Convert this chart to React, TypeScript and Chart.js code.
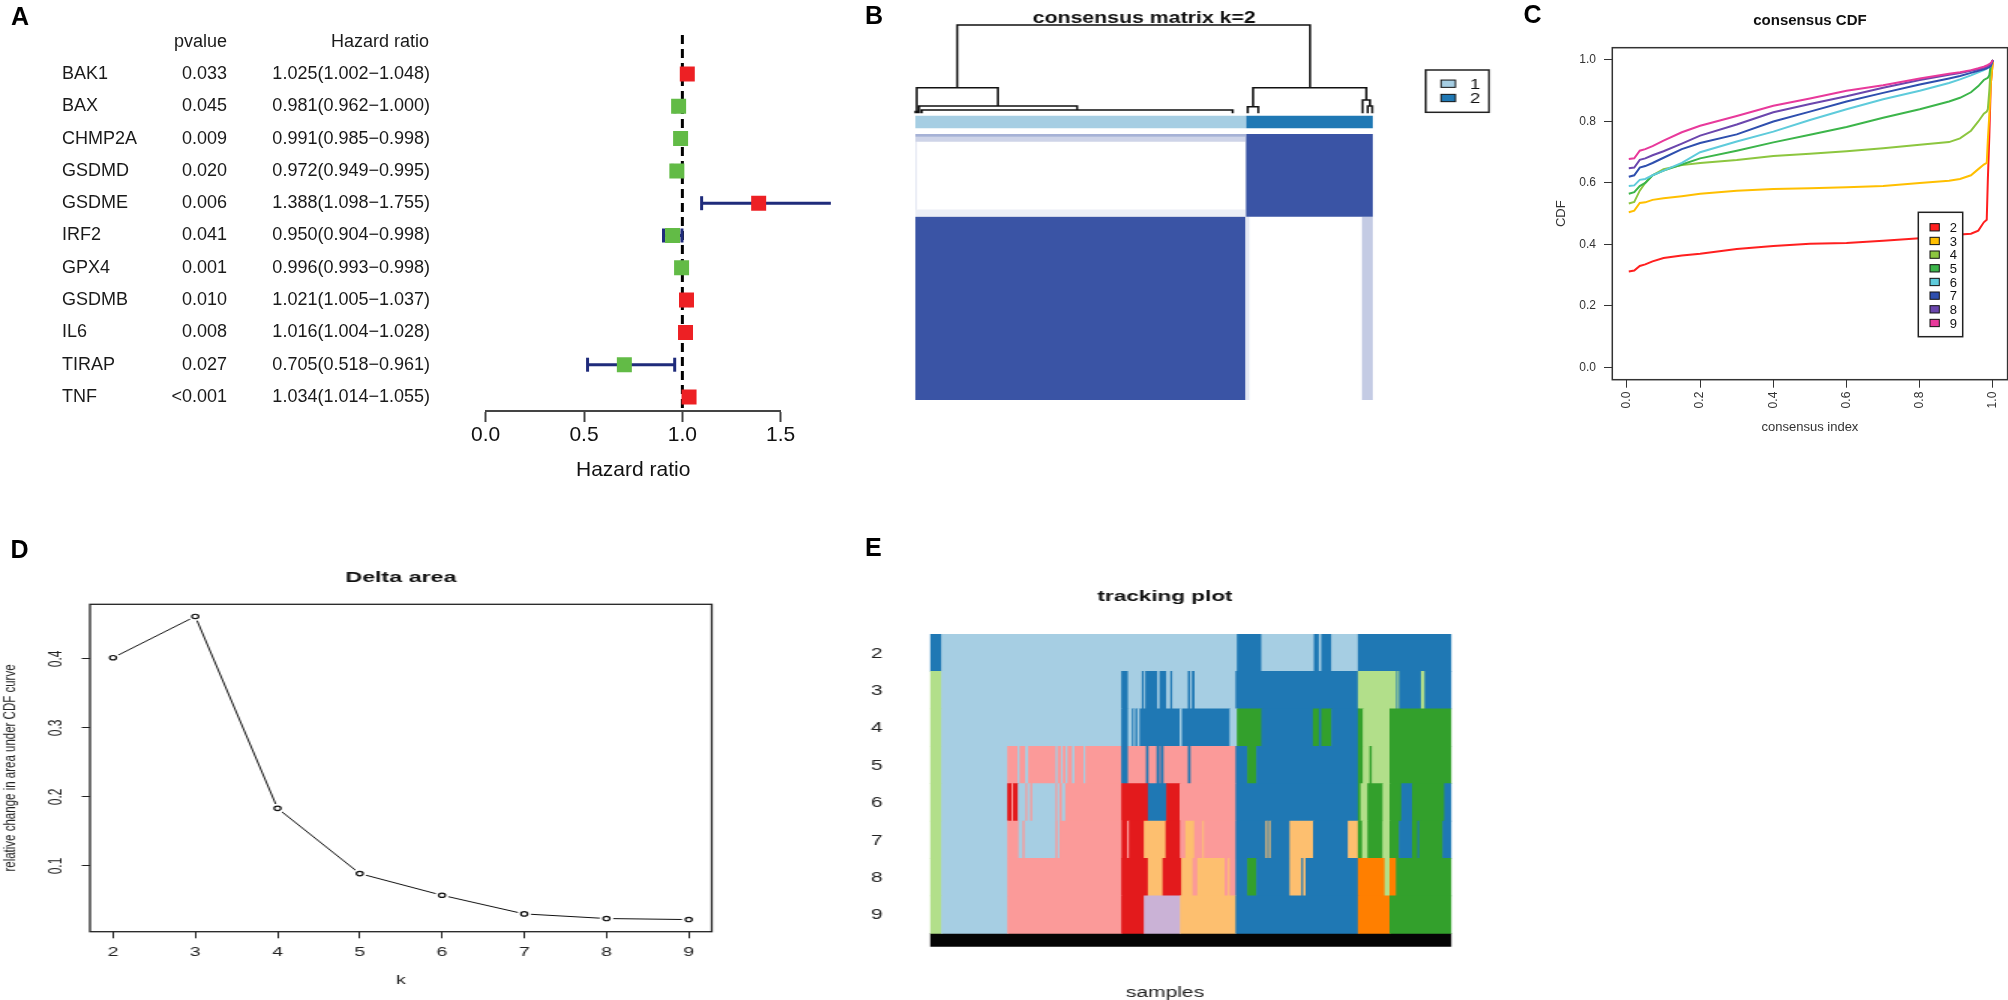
import React, { useEffect, useRef } from 'react';
import { Chart, registerables } from 'chart.js';

Chart.register(...registerables);

const FONT = '"Liberation Sans", Arial, Helvetica, sans-serif';
Chart.defaults.font.family = FONT;
Chart.defaults.color = '#222';

// ---------------- Panel A : forest plot ----------------
const genes = ['BAK1', 'BAX', 'CHMP2A', 'GSDMD', 'GSDME', 'IRF2', 'GPX4', 'GSDMB', 'IL6', 'TIRAP', 'TNF'];
const pValues = ['0.033', '0.045', '0.009', '0.020', '0.006', '0.041', '0.001', '0.010', '0.008', '0.027', '<0.001'];
const hazardRatio = [1.025, 0.981, 0.991, 0.972, 1.388, 0.95, 0.996, 1.021, 1.016, 0.705, 1.034];
const hrLower = [1.002, 0.962, 0.985, 0.949, 1.098, 0.904, 0.993, 1.005, 1.004, 0.518, 1.014];
const hrUpper = [1.048, 1.0, 0.998, 0.995, 1.755, 0.998, 0.998, 1.037, 1.028, 0.961, 1.055];
const hrTicks = [0, 0.5, 1, 1.5];

// ---------------- Panel B : consensus matrix ----------------
const clusterLabels = ['1', '2'];
const clusterSizes = [238, 92];
const clusterColors = ['#a6cee3', '#1f78b4'];
const matrixRowSplit = 0.311; // share of matrix rows in the top (cluster 2) block
// [xLeft, hLeft, xRight, hRight, hMerge]
const dendroMerges = [
  [30.4, 0.29, 284.4, 0.29, 1.0],
  [1.2, 0, 59.7, 0.083, 0.29],
  [2.9, 0, 116.7, 0.037, 0.083],
  [4.8, 0, 228.7, 0, 0.037],
  [243.4, 0.075, 325, 0.15, 0.29],
  [239.5, 0, 247.2, 0, 0.075],
  [322.3, 0, 327.6, 0.083, 0.15],
  [326, 0, 329.2, 0, 0.083],
  [0.3, 0, 2.2, 0, 0.02],
];
// [col0, col1, rowFrac0, rowFrac1, consensus]
const matrixNoise = [
  [0, 238, 0, 0.0102, 0.45],
  [0, 238, 0.0102, 0.0288, 0.25],
  [0, 238, 0.284, 0.308, 0.1],
  [0, 1.5, 0.0288, 0.284, 0.15],
  [238, 241, 0.311, 1, 0.12],
  [321.5, 330, 0.311, 1, 0.3],
];

// ---------------- Panel C : consensus CDF ----------------
const cdfK = ['2', '3', '4', '5', '6', '7', '8', '9'];
const cdfColors = ['#ff1f1f', '#ffbf00', '#8cc63f', '#3cb54a', '#5ecbdb', '#2e4fae', '#6b46ad', '#e8399b'];
const cdfIndex = [0.005, 0.02, 0.035, 0.05, 0.07, 0.1, 0.15, 0.2, 0.3, 0.4, 0.5, 0.6, 0.7, 0.8, 0.88, 0.91, 0.94, 0.96, 0.975, 0.983, 0.986, 0.99, 0.994, 1.0];
const cdfK2 = [0.312, 0.315, 0.33, 0.335, 0.345, 0.356, 0.364, 0.37, 0.385, 0.395, 0.402, 0.405, 0.412, 0.42, 0.428, 0.432, 0.435, 0.445, 0.472, 0.48, 0.61, 0.75, 0.92, 1.0];
const cdfK3 = [0.505, 0.51, 0.535, 0.537, 0.545, 0.55, 0.557, 0.565, 0.575, 0.58, 0.583, 0.586, 0.59, 0.6, 0.607, 0.613, 0.625, 0.645, 0.66, 0.665, 0.74, 0.82, 0.92, 1.0];
const cdfK4 = [0.533, 0.538, 0.575, 0.6, 0.625, 0.645, 0.658, 0.665, 0.675, 0.688, 0.695, 0.703, 0.713, 0.724, 0.733, 0.745, 0.77, 0.8, 0.825, 0.832, 0.84, 0.9, 0.98, 1.0];
const cdfK5 = [0.565, 0.57, 0.59, 0.6, 0.625, 0.64, 0.66, 0.68, 0.705, 0.732, 0.757, 0.782, 0.812, 0.84, 0.865, 0.877, 0.895, 0.915, 0.935, 0.94, 0.942, 0.95, 0.985, 1.0];
const cdfK6 = [0.59, 0.592, 0.61, 0.613, 0.625, 0.64, 0.665, 0.7, 0.735, 0.767, 0.805, 0.84, 0.872, 0.9, 0.925, 0.937, 0.95, 0.96, 0.967, 0.972, 0.974, 0.977, 0.98, 1.0];
const cdfK7 = [0.62, 0.625, 0.65, 0.655, 0.665, 0.682, 0.71, 0.73, 0.758, 0.8, 0.832, 0.865, 0.893, 0.92, 0.94, 0.948, 0.958, 0.965, 0.97, 0.973, 0.975, 0.977, 0.98, 1.0];
const cdfK8 = [0.648, 0.65, 0.675, 0.68, 0.69, 0.703, 0.728, 0.754, 0.79, 0.83, 0.857, 0.882, 0.91, 0.935, 0.952, 0.958, 0.965, 0.97, 0.975, 0.978, 0.98, 0.982, 0.985, 1.0];
const cdfK9 = [0.678, 0.68, 0.705, 0.71, 0.72, 0.738, 0.765, 0.786, 0.818, 0.851, 0.875, 0.9, 0.918, 0.94, 0.955, 0.96, 0.967, 0.973, 0.978, 0.982, 0.984, 0.987, 0.99, 1.0];
const cdfTicks = [0, 0.2, 0.4, 0.6, 0.8, 1.0];

// ---------------- Panel D : delta area ----------------
const deltaK = [2, 3, 4, 5, 6, 7, 8, 9];
const deltaArea = [0.4016, 0.4614, 0.1835, 0.089, 0.0576, 0.0306, 0.0239, 0.0224];
const deltaTicks = [0.1, 0.2, 0.3, 0.4];

// ---------------- Panel E : tracking plot ----------------
const trackRows = ['2', '3', '4', '5', '6', '7', '8', '9'];
const trackSamples = 521.5;
const trackPalette = ['#a6cee3', '#1f78b4', '#b2df8a', '#33a02c', '#fb9a99', '#e31a1c', '#fdbf6f', '#ff7f00', '#cab2d6'];
// [startSample, endSample, cluster]
const trackK2 = [[0, 11.7, 2], [11.7, 307.3, 1], [307.3, 331.7, 2], [331.7, 384.3, 1], [384.3, 389.3, 2], [389.3, 391.7, 1], [391.7, 401.7, 2], [401.7, 428.3, 1], [428.3, 521.5, 2]];
const trackK3 = [[0, 11.7, 3], [11.7, 191.7, 1], [191.7, 198.3, 2], [198.3, 212.3, 1], [212.3, 214.3, 2], [214.3, 215.7, 1], [215.7, 227.7, 2], [227.7, 230, 1], [230, 236.7, 2], [236.7, 240.7, 1], [240.7, 242.7, 2], [242.7, 258.3, 1], [258.3, 260.7, 2], [260.7, 262.3, 1], [262.3, 265, 2], [265, 306, 1], [306, 428.3, 2], [428.3, 466.7, 3], [466.7, 468, 2], [468, 469.5, 3], [469.5, 491.4, 2], [491.4, 495, 3], [495, 521.5, 2]];
const trackK4 = [[0, 11.7, 3], [11.7, 191.7, 1], [191.7, 198.3, 2], [198.3, 202.3, 1], [202.3, 204, 2], [204, 205.7, 1], [205.7, 207.7, 2], [207.7, 210, 1], [210, 250, 2], [250, 252.3, 1], [252.3, 300, 2], [300, 307.3, 1], [307.3, 331.7, 4], [331.7, 383.3, 2], [383.3, 389.3, 4], [389.3, 391.7, 2], [391.7, 401.7, 4], [401.7, 428.3, 2], [428.3, 433.3, 4], [433.3, 460, 3], [460, 521.5, 4]];
const trackK5 = [[0, 11.7, 3], [11.7, 77.7, 1], [77.7, 88, 5], [88, 90, 1], [90, 95.7, 5], [95.7, 98.6, 1], [98.6, 126, 5], [126, 128, 1], [128, 131.4, 5], [131.4, 133.2, 1], [133.2, 136, 5], [136, 138, 1], [138, 142.5, 5], [142.5, 145, 1], [145, 154, 5], [154, 155.7, 1], [155.7, 191.7, 5], [191.7, 198.3, 2], [198.3, 216.4, 5], [216.4, 219, 2], [219, 227, 5], [227, 230, 2], [230, 231, 5], [231, 234, 2], [234, 258.3, 5], [258.3, 261, 2], [261, 306, 5], [306, 317.7, 2], [317.7, 326.7, 4], [326.7, 428.3, 2], [428.3, 433.3, 4], [433.3, 440, 3], [440, 442.3, 4], [442.3, 460, 3], [460, 521.5, 4]];
const trackK6 = [[0, 11.7, 3], [11.7, 77.7, 1], [77.7, 82, 6], [82, 83.5, 5], [83.5, 88.3, 6], [88.3, 96, 1], [96, 97.7, 5], [97.7, 100.7, 1], [100.7, 102.7, 5], [102.7, 126, 1], [126, 127.7, 5], [127.7, 130, 1], [130, 132.3, 5], [132.3, 135.7, 1], [135.7, 191.7, 5], [191.7, 218.3, 6], [218.3, 236.7, 2], [236.7, 250, 6], [250, 306, 5], [306, 428.3, 2], [428.3, 431, 4], [431, 437.8, 3], [437.8, 453, 4], [453, 460, 3], [460, 471.7, 4], [471.7, 482.5, 2], [482.5, 514.6, 4], [514.6, 521.5, 2]];
const trackK7 = [[0, 11.7, 3], [11.7, 77.7, 1], [77.7, 89, 5], [89, 93, 1], [93, 95, 5], [95, 126, 1], [126, 128, 5], [128, 130, 1], [130, 192, 5], [192, 197.5, 6], [197.5, 199.3, 5], [199.3, 214.3, 6], [214.3, 236, 7], [236, 250.4, 6], [250.4, 255.7, 5], [255.7, 264.6, 7], [264.6, 272.9, 5], [272.9, 274.3, 7], [274.3, 306, 5], [306, 336, 2], [336, 337.7, 7], [337.7, 339.3, 2], [339.3, 341, 7], [341, 360, 2], [360, 383.5, 7], [383.5, 418.3, 2], [418.3, 428.3, 7], [428.3, 432.5, 4], [432.5, 437.9, 3], [437.9, 452.9, 4], [452.9, 460, 3], [460, 469.3, 4], [469.3, 482.5, 2], [482.5, 487.9, 4], [487.9, 489.6, 2], [489.6, 512.9, 4], [512.9, 521.5, 2]];
const trackK8 = [[0, 11.7, 3], [11.7, 77.7, 1], [77.7, 191.7, 5], [191.7, 218.3, 6], [218.3, 233, 7], [233, 251.7, 6], [251.7, 263, 7], [263, 267.7, 5], [267.7, 295, 7], [295, 298.3, 5], [298.3, 300, 7], [300, 306, 5], [306, 317.7, 2], [317.7, 326.7, 4], [326.7, 360, 2], [360, 371.8, 7], [371.8, 373.6, 2], [373.6, 376, 7], [376, 428.3, 2], [428.3, 455, 8], [455, 460, 3], [460, 466.4, 8], [466.4, 521.5, 4]];
const trackK9 = [[0, 11.7, 3], [11.7, 77.7, 1], [77.7, 191.7, 5], [191.7, 214.3, 6], [214.3, 250.4, 9], [250.4, 306, 7], [306, 428.3, 2], [428.3, 460, 8], [460, 521.5, 4]];

// ---------------- helpers ----------------
const baseOpts = { responsive: false, animation: false as const, events: [] as any[] };

function makeFrame(color: string, width: number) {
  return {
    id: 'frame',
    afterDatasetsDraw(chart: any) {
      const { ctx, chartArea: a } = chart;
      ctx.save();
      ctx.strokeStyle = color;
      ctx.lineWidth = width;
      ctx.strokeRect(a.left, a.top, a.right - a.left, a.bottom - a.top);
      ctx.restore();
    },
  };
}

function makeBoxLegend(cfg: any) {
  return {
    id: 'boxLegend',
    afterDraw(chart: any) {
      const ctx = chart.ctx;
      ctx.save();
      ctx.fillStyle = '#fff';
      ctx.fillRect(cfg.x, cfg.y, cfg.w, cfg.h);
      ctx.strokeStyle = '#222';
      ctx.lineWidth = cfg.lw;
      ctx.strokeRect(cfg.x, cfg.y, cfg.w, cfg.h);
      cfg.items.forEach((it: any, i: number) => {
        const cy = cfg.firstY + i * cfg.stepY;
        ctx.fillStyle = it.color;
        ctx.fillRect(cfg.boxX, cy - cfg.boxH / 2, cfg.boxW, cfg.boxH);
        ctx.strokeStyle = '#111';
        ctx.lineWidth = 1;
        ctx.strokeRect(cfg.boxX, cy - cfg.boxH / 2, cfg.boxW, cfg.boxH);
        ctx.fillStyle = '#111';
        ctx.font = `${cfg.fontSize}px ${FONT}`;
        ctx.textAlign = 'center';
        ctx.textBaseline = 'middle';
        ctx.fillText(it.label, cfg.textX, cy + 1);
      });
      ctx.restore();
    },
  };
}

// ---------------- Panel builders ----------------
function buildForest(canvas: HTMLCanvasElement) {
  const yMin = -1.207;
  const yMax = 10.433;
  const red = '#ed2024';
  const green = '#62bb46';
  const navy = '#1f2b7b';
  const ci: any[] = [];
  const caps: any[] = [];
  genes.forEach((_, i) => {
    ci.push({ x: hrLower[i], y: i }, { x: hrUpper[i], y: i }, { x: hrUpper[i], y: null });
    caps.push({ x: hrLower[i], y: i }, { x: hrUpper[i], y: i });
  });
  const table = {
    id: 'forestTable',
    afterDraw(chart: any) {
      const { ctx } = chart;
      const ys = chart.scales.y;
      ctx.save();
      ctx.font = `18px ${FONT}`;
      ctx.fillStyle = '#1a1a1a';
      ctx.textBaseline = 'middle';
      const hy = ys.getPixelForValue(-1);
      ctx.textAlign = 'right';
      ctx.fillText('pvalue', 227, hy);
      ctx.fillText('Hazard ratio', 429, hy);
      genes.forEach((g, i) => {
        const py = ys.getPixelForValue(i);
        ctx.textAlign = 'left';
        ctx.fillText(g, 62, py);
        ctx.textAlign = 'right';
        ctx.fillText(pValues[i], 227, py);
        ctx.fillText(`${hazardRatio[i].toFixed(3)}(${hrLower[i].toFixed(3)}\u2212${hrUpper[i].toFixed(3)})`, 430, py);
      });
      ctx.restore();
    },
  };
  return new Chart(canvas, {
    type: 'scatter',
    data: {
      datasets: [
        { type: 'line', data: [{ x: 1, y: yMin }, { x: 1, y: yMax }], borderColor: '#000', borderWidth: 3, borderDash: [9, 5], pointRadius: 0, order: 4 } as any,
        { type: 'line', data: ci, borderColor: navy, borderWidth: 3, pointRadius: 0, spanGaps: false, clip: false, order: 3 } as any,
        { type: 'scatter', data: caps, pointStyle: 'line', pointRotation: 90, pointRadius: 7, pointBorderColor: navy, pointBorderWidth: 3, clip: false, order: 2 } as any,
        {
          type: 'scatter',
          data: genes.map((_, i) => ({ x: hazardRatio[i], y: i })),
          pointStyle: 'rect',
          pointRadius: 10.6,
          pointBackgroundColor: hazardRatio.map((v) => (v >= 1 ? red : green)),
          pointBorderWidth: 0,
          order: 1,
        } as any,
      ],
    },
    options: {
      ...baseOpts,
      layout: { padding: { left: 485.7, right: 99.3, top: 35, bottom: 0 } },
      plugins: { legend: { display: false }, tooltip: { enabled: false } },
      scales: {
        x: {
          type: 'linear',
          min: 0,
          max: 1.5,
          afterBuildTicks: (s: any) => { s.ticks = hrTicks.map((v) => ({ value: v })); },
          ticks: { font: { size: 21 }, color: '#111', padding: 0.4, callback: (v: any) => Number(v).toFixed(1) },
          grid: { display: true, drawOnChartArea: false, drawTicks: true, tickLength: 11, tickWidth: 2, tickColor: '#444' },
          border: { display: true, color: '#444', width: 2 },
          title: { display: true, text: 'Hazard ratio', font: { size: 21 }, color: '#111', padding: { top: 0, bottom: 17.4 } },
          afterFit: (s: any) => { s.height = 89; },
        },
        y: { type: 'linear', reverse: true, min: yMin, max: yMax, display: false },
      },
    } as any,
    plugins: [table],
  });
}

function buildMatrix(canvas: HTMLCanvasElement) {
  const n1 = clusterSizes[0];
  const n = n1 + clusterSizes[1];
  const blue = '#3a54a5';
  // native-canvas layout of the matrix figure
  const chartTop = 30;
  const heatTop = 134;
  const heatBottom = 400;
  const fracPx = heatBottom - heatTop;
  const yMin = -(heatTop - chartTop) / fracPx;
  const dendBase = 113.3;
  const dendTop = 25;
  const hPx = dendBase - dendTop;
  const ydMin = (dendBase - heatBottom) / hPx;
  const ydMax = (dendBase - chartTop) / hPx;
  const barTop = (115.7 - heatTop) / fracPx;
  const barBottom = (128.3 - heatTop) / fracPx;

  const rect = (c0: number, c1: number, r0: number, r1: number, color: string, order: number) => ({
    type: 'line',
    data: [{ x: c0, y: r0 }, { x: c1, y: r0 }],
    fill: { target: { value: r1 } },
    backgroundColor: color,
    borderColor: 'transparent',
    borderWidth: 0,
    pointRadius: 0,
    yAxisID: 'y',
    order,
  });
  const dendro = dendroMerges.flatMap(([xl, hl, xr, hr, h]) => [
    { x: xl, y: hl }, { x: xl, y: h }, { x: xr, y: h }, { x: xr, y: hr }, { x: xr, y: null },
  ]);
  const datasets: any[] = [
    rect(n1, n, 0, matrixRowSplit, blue, 6),
    rect(0, n1, matrixRowSplit, 1, blue, 6),
    ...matrixNoise.map(([c0, c1, r0, r1, v]) => rect(c0, c1, r0, r1, `rgba(58,84,165,${v})`, 5)),
    rect(0, n1, barTop, barBottom, clusterColors[0], 4),
    rect(n1, n, barTop, barBottom, clusterColors[1], 4),
    { type: 'line', data: dendro, yAxisID: 'yd', borderColor: '#111', borderWidth: 1.6, pointRadius: 0, spanGaps: false, clip: false, fill: false, order: 1 },
  ];
  const legend = makeBoxLegend({
    x: 402.8, y: 70, w: 47.6, h: 42.3, lw: 1.5,
    items: clusterLabels.map((l, i) => ({ label: l, color: clusterColors[i] })),
    firstY: 83.7, stepY: 14.3, boxX: 414.3, boxW: 10.8, boxH: 7.3, textX: 439.8, fontSize: 14,
  });
  return new Chart(canvas, {
    type: 'scatter',
    data: { datasets },
    options: {
      ...baseOpts,
      layout: { padding: { left: 18.8, right: 95.6, top: 0, bottom: 440 - heatBottom } },
      plugins: {
        legend: { display: false },
        tooltip: { enabled: false },
        title: { display: true, text: 'consensus matrix k=2', font: { size: 16, weight: 'bold' }, color: '#111', padding: { top: 8.7, bottom: 2.1 }, fullSize: false },
      },
      scales: {
        x: { type: 'linear', min: 0, max: n, display: false },
        y: { type: 'linear', reverse: true, min: yMin, max: 1, display: false },
        yd: { type: 'linear', min: ydMin, max: ydMax, display: false },
      },
    } as any,
    plugins: [legend],
  });
}

function buildCdf(canvas: HTMLCanvasElement) {
  const curves = [cdfK2, cdfK3, cdfK4, cdfK5, cdfK6, cdfK7, cdfK8, cdfK9];
  const legend = makeBoxLegend({
    x: 418.3, y: 212.3, w: 44.4, h: 124.4, lw: 1.5,
    items: cdfK.map((l, i) => ({ label: l, color: cdfColors[i] })),
    firstY: 227.3, stepY: 13.67, boxX: 430, boxW: 9.3, boxH: 7.3, textX: 453.3, fontSize: 13,
  });
  return new Chart(canvas, {
    type: 'scatter',
    data: {
      datasets: curves.map((ys, i) => ({
        type: 'line',
        label: cdfK[i],
        data: cdfIndex.map((x, j) => ({ x, y: ys[j] })),
        borderColor: cdfColors[i],
        borderWidth: 2,
        pointRadius: 0,
        order: curves.length - i,
      })) as any,
    },
    options: {
      ...baseOpts,
      layout: { padding: { left: 0, right: 12.4, top: 0, bottom: 0 } },
      plugins: {
        legend: { display: false },
        tooltip: { enabled: false },
        title: { display: true, text: 'consensus CDF', font: { size: 15, weight: 'bold' }, color: '#111', padding: { top: 11.7, bottom: 18 }, fullSize: false },
      },
      scales: {
        x: {
          type: 'linear', min: -0.04, max: 1.04,
          afterBuildTicks: (s: any) => { s.ticks = cdfTicks.map((v) => ({ value: v })); },
          ticks: { font: { size: 12 }, color: '#333', minRotation: 90, maxRotation: 90, padding: 4, callback: (v: any) => Number(v).toFixed(1) },
          grid: { display: true, drawOnChartArea: false, tickLength: 8, tickColor: '#333', tickWidth: 1 },
          border: { display: false },
          title: { display: true, text: 'consensus index', font: { size: 13 }, color: '#333', padding: { top: 0, bottom: 34.5 } },
          afterFit: (s: any) => { s.height = 90.3; },
        },
        y: {
          type: 'linear', min: -0.04, max: 1.04,
          afterBuildTicks: (s: any) => { s.ticks = cdfTicks.map((v) => ({ value: v })); },
          ticks: { font: { size: 12 }, color: '#333', padding: 8, callback: (v: any) => Number(v).toFixed(1) },
          grid: { display: true, drawOnChartArea: false, tickLength: 8.3, tickColor: '#333', tickWidth: 1 },
          border: { display: false },
          title: { display: true, text: 'CDF', font: { size: 13 }, color: '#333', padding: { top: 53.2, bottom: 0 } },
          afterFit: (s: any) => { s.width = 112.3; },
        },
      },
    } as any,
    plugins: [makeFrame('#333', 1.5), legend],
  });
}

function padRange(arr: number[]) {
  const mn = Math.min(...arr);
  const mx = Math.max(...arr);
  const p = (mx - mn) * 0.04;
  return [mn - p, mx + p];
}

function buildDelta(canvas: HTMLCanvasElement) {
  const [x0, x1] = padRange(deltaK);
  const [y0, y1] = padRange(deltaArea);
  const pts = deltaK.map((k, i) => ({ x: k, y: deltaArea[i] }));
  return new Chart(canvas, {
    type: 'scatter',
    data: {
      datasets: [
        { type: 'line', data: pts, borderColor: '#111', borderWidth: 1, pointRadius: 0, order: 3 } as any,
        { type: 'scatter', data: pts, pointRadius: 4.5, pointBackgroundColor: '#fff', pointBorderWidth: 0, order: 2 } as any,
        { type: 'scatter', data: pts, pointRadius: 2.2, pointBackgroundColor: '#fff', pointBorderColor: '#111', pointBorderWidth: 1.2, order: 1 } as any,
      ],
    },
    options: {
      ...baseOpts,
      layout: { padding: { left: 0, right: 5.5, top: 0, bottom: 0 } },
      plugins: {
        legend: { display: false },
        tooltip: { enabled: false },
        title: { display: true, text: 'Delta area', font: { size: 15.5, weight: 'bold' }, color: '#111', padding: { top: 48.4, bottom: 17.3 }, fullSize: false },
      },
      scales: {
        x: {
          type: 'linear', min: x0, max: x1,
          afterBuildTicks: (s: any) => { s.ticks = deltaK.map((v) => ({ value: v })); },
          ticks: { font: { size: 13 }, color: '#222', padding: 6.6, callback: (v: any) => String(v) },
          grid: { display: true, drawOnChartArea: false, tickLength: 6.6, tickColor: '#222', tickWidth: 1 },
          border: { display: false },
          title: { display: true, text: 'k', font: { size: 13 }, color: '#222', padding: { top: 0, bottom: 12.2 } },
          afterFit: (s: any) => { s.height = 68.3; },
        },
        y: {
          type: 'linear', min: y0, max: y1,
          afterBuildTicks: (s: any) => { s.ticks = deltaTicks.map((v) => ({ value: v })); },
          ticks: { font: { size: 12 }, color: '#222', minRotation: 90, maxRotation: 90, crossAlign: 'center', padding: 8.9, callback: (v: any) => Number(v).toFixed(1) },
          grid: { display: true, drawOnChartArea: false, tickLength: 5.5, tickColor: '#222', tickWidth: 1 },
          border: { display: false },
          title: { display: true, text: 'relative change in area under CDF curve', font: { size: 11.5 }, color: '#222', padding: { top: 0.2, bottom: 0 } },
          afterFit: (s: any) => { s.width = 60; },
        },
      },
    } as any,
    plugins: [makeFrame('#222', 1.3)],
  });
}

function buildTracking(canvas: HTMLCanvasElement) {
  const series = [trackK2, trackK3, trackK4, trackK5, trackK6, trackK7, trackK8, trackK9];
  const segs = series.flatMap((row, r) => row.map(([s, e, c]) => ({ x: [s, e], y: r, c })));
  // native layout: rows from 74 to 373.3, black bar 373.3..386.7
  const plotTop = 74;
  const rowPx = (373.3 - plotTop) / trackRows.length;
  const yMax = -0.5 + (386.7 - plotTop) / rowPx;
  const barCenter = -0.5 + (380 - plotTop) / rowPx;
  const rowLabels = {
    id: 'rowLabels',
    afterDraw(chart: any) {
      const { ctx } = chart;
      const ys = chart.scales.y;
      ctx.save();
      ctx.font = `14px ${FONT}`;
      ctx.fillStyle = '#222';
      ctx.textAlign = 'center';
      ctx.textBaseline = 'middle';
      trackRows.forEach((l, i) => ctx.fillText(l, 21.1, ys.getPixelForValue(i) + 1));
      ctx.restore();
    },
  };
  return new Chart(canvas, {
    type: 'bar',
    data: {
      datasets: [
        {
          data: segs.map(({ x, y }) => ({ x, y })),
          backgroundColor: segs.map((s) => trackPalette[s.c - 1]),
          borderWidth: 0,
          barThickness: rowPx + 0.05,
          grouped: false,
        } as any,
        {
          data: [{ x: [0, trackSamples], y: barCenter }],
          backgroundColor: '#050505',
          borderWidth: 0,
          barThickness: 13.4,
          grouped: false,
        } as any,
      ],
    },
    options: {
      ...baseOpts,
      indexAxis: 'y',
      layout: { padding: { left: 22.3, right: 22.67, top: 0, bottom: 0 } },
      plugins: {
        legend: { display: false },
        tooltip: { enabled: false },
        title: { display: true, text: 'tracking plot', font: { size: 15, weight: 'bold' }, color: '#111', padding: { top: 28.3, bottom: 27.7 } },
        subtitle: { display: true, position: 'bottom', text: 'samples', font: { size: 14 }, color: '#222', padding: { top: 38.2, bottom: 8.3 } },
      },
      scales: {
        x: { type: 'linear', min: 0, max: trackSamples, display: false },
        y: {
          type: 'linear', reverse: true, min: -0.5, max: yMax, offset: false,
          ticks: { display: false },
          grid: { display: false, offset: false },
          border: { display: false },
          afterFit: (s: any) => { s.width = 34.37; },
        },
      },
    } as any,
    plugins: [rowLabels],
  });
}

// ---------------- React ----------------
function ChartCanvas({ width, height, build }: { width: number; height: number; build: (c: HTMLCanvasElement) => Chart }) {
  const ref = useRef<HTMLCanvasElement>(null);
  useEffect(() => {
    const chart = build(ref.current as HTMLCanvasElement);
    return () => chart.destroy();
  }, []);
  return <canvas ref={ref} width={width} height={height} style={{ display: 'block' }} />;
}

const letters = [
  { t: 'A', x: 11, y: 3.7 },
  { t: 'B', x: 865, y: 3.4 },
  { t: 'C', x: 1523.5, y: 1.7 },
  { t: 'D', x: 10.5, y: 536.7 },
  { t: 'E', x: 865, y: 534.7 },
];

export default function App() {
  return (
    <div style={{ position: 'absolute', left: 0, top: 0, width: 2008, height: 1000, overflow: 'hidden', background: '#fff' }}>
      <div style={{ position: 'absolute', left: 0, top: 0 }}>
        <ChartCanvas width={880} height={500} build={buildForest} />
      </div>
      <div style={{ position: 'absolute', left: 890, top: 0, transform: 'scaleX(1.33)', transformOrigin: '0 0' }}>
        <ChartCanvas width={459} height={440} build={buildMatrix} />
      </div>
      <div style={{ position: 'absolute', left: 1500, top: 0 }}>
        <ChartCanvas width={520} height={470} build={buildCdf} />
      </div>
      <div style={{ position: 'absolute', left: 0, top: 520, transform: 'scaleX(1.5)', transformOrigin: '0 0' }}>
        <ChartCanvas width={480} height={480} build={buildDelta} />
      </div>
      <div style={{ position: 'absolute', left: 845, top: 560, transform: 'scaleX(1.5)', transformOrigin: '0 0' }}>
        <ChartCanvas width={427} height={450} build={buildTracking} />
      </div>
      {letters.map((l) => (
        <div
          key={l.t}
          style={{ position: 'absolute', left: l.x, top: l.y, font: `bold 25px ${FONT}`, lineHeight: '25px', color: '#000' }}
        >
          {l.t}
        </div>
      ))}
    </div>
  );
}
